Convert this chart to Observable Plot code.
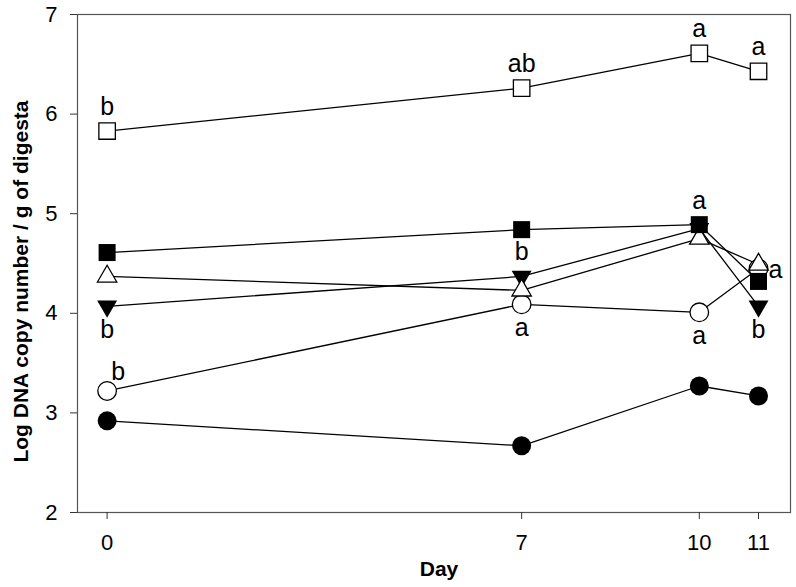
<!DOCTYPE html>
<html>
<head>
<meta charset="utf-8">
<script src="https://cdn.jsdelivr.net/npm/d3@7"></script>
<script src="https://cdn.jsdelivr.net/npm/@observablehq/plot@0.6"></script>
<style>
  html, body { margin: 0; padding: 0; background: #fff; }
  #chart svg { display: block; }
</style>
</head>
<body>
<div id="chart"></div>
<script>
// ---- Data ----
const days = [0, 7, 10, 11];
const xTicks = [0, 7, 10, 11];
const yTicks = [2, 3, 4, 5, 6, 7];

const openSquare         = [5.83, 6.26, 6.61, 6.43];
const filledSquare       = [4.61, 4.84, 4.89, 4.32];
const openTriangle       = [4.37, 4.23, 4.75, 4.49];
const filledTriangleDown = [4.07, 4.37, 4.85, 4.07];
const openCircle         = [3.22, 4.09, 4.01, 4.45];
const filledCircle       = [2.92, 2.67, 3.27, 3.17];

// significance letters per series (null = none) and where they sit
const openSquareLetters         = ["b", "ab", "a", "a"];
const openSquarePlace           = ["above", "above", "above", "above"];
const filledSquareLetters       = [null, null, "a", null];
const filledSquarePlace         = [null, null, "above", null];
const filledTriangleDownLetters = ["b", "b", null, "b"];
const filledTriangleDownPlace   = ["below", "above", null, "below"];
const openCircleLetters         = ["b", "a", "a", null];
const openCirclePlace           = ["upperright", "below", "below", null];
const openTriangleLetters       = [null, null, null, "a"];
const openTrianglePlace         = [null, null, null, "right"];

const xTitle = "Day";
const yTitle = "Log DNA copy number / g of digesta";

// ---- Build tables ----
const seriesDefs = [
  {name: "filledCircle", values: filledCircle, symbol: "circle", fill: "black", r: 9.5, rotate: 0, stroke: "none"},
  {name: "openCircle", values: openCircle, symbol: "circle", fill: "white", r: 9.3, rotate: 0, stroke: "black"},
  {name: "filledTriangleDown", values: filledTriangleDown, symbol: "triangle", fill: "black", r: 7.4, rotate: 180, stroke: "none"},
  {name: "openTriangle", values: openTriangle, symbol: "triangle", fill: "white", r: 7.2, rotate: 0, stroke: "black"},
  {name: "filledSquare", values: filledSquare, symbol: "square", fill: "black", r: 9.6, rotate: 0, stroke: "none"},
  {name: "openSquare", values: openSquare, symbol: "square", fill: "white", r: 9.3, rotate: 0, stroke: "black"}
];
const seriesRows = s => days.map((d, i) => ({day: d, value: s.values[i], series: s.name}));

const letterSets = [
  [openSquare, openSquareLetters, openSquarePlace],
  [filledSquare, filledSquareLetters, filledSquarePlace],
  [filledTriangleDown, filledTriangleDownLetters, filledTriangleDownPlace],
  [openCircle, openCircleLetters, openCirclePlace],
  [openTriangle, openTriangleLetters, openTrianglePlace]
];
const letters = [];
for (const [vals, labs, places] of letterSets) {
  days.forEach((d, i) => {
    if (labs[i]) letters.push({day: d, value: vals[i], text: labs[i], place: places[i]});
  });
}
const placeOffsets = {
  above: {dx: 0, dy: -24},
  below: {dx: 0, dy: 24},
  upperright: {dx: 11, dy: -19},
  right: {dx: 17, dy: 6}
};

const font = "'Liberation Sans', Arial, Helvetica, sans-serif";
const marks = [];

// lines
for (const s of seriesDefs) {
  marks.push(Plot.line(seriesRows(s), {x: "day", y: "value", stroke: "black", strokeWidth: 1.3}));
}
// symbols
for (const s of seriesDefs) {
  marks.push(Plot.dot(seriesRows(s), {
    x: "day", y: "value", symbol: s.symbol, r: s.r, fill: s.fill,
    stroke: s.stroke, strokeWidth: 1.3, rotate: s.rotate
  }));
}
// letters
for (const [place, off] of Object.entries(placeOffsets)) {
  marks.push(Plot.text(letters.filter(l => l.place === place), {
    x: "day", y: "value", text: "text", dx: off.dx, dy: off.dy,
    fontSize: 25, fill: "black", lineAnchor: "middle", textAnchor: "middle"
  }));
}

const chart = Plot.plot({
  width: 796,
  height: 587,
  marginLeft: 77,
  marginRight: 6,
  marginTop: 14,
  marginBottom: 75,
  style: {fontFamily: font, background: "white", color: "black"},
  x: {domain: [-0.5, 11.54]},
  y: {domain: [2, 7]},
  marks: [
    Plot.frame({stroke: "#555", strokeWidth: 1.2}),
    Plot.axisX(xTicks, {tickSize: 7, tickPadding: 15, fontSize: 22, stroke: "#333", fill: "black", label: null, tickFormat: d => String(d)}),
    Plot.axisY(yTicks, {tickSize: 7, tickPadding: 13, fontSize: 22, stroke: "#333", fill: "black", label: null, tickFormat: d => String(d)}),
    ...marks,
    Plot.text([xTitle], {frameAnchor: "bottom", text: d => d, dx: 5, dy: 57, fontSize: 21, fontWeight: "bold", lineAnchor: "middle", textAnchor: "middle"}),
    Plot.text([yTitle], {frameAnchor: "left", text: d => d, rotate: -90, dx: -56, dy: 18, fontSize: 21, fontWeight: "bold", lineAnchor: "middle", textAnchor: "middle"})
  ]
});
document.getElementById("chart").appendChild(chart);
</script>
</body>
</html>
